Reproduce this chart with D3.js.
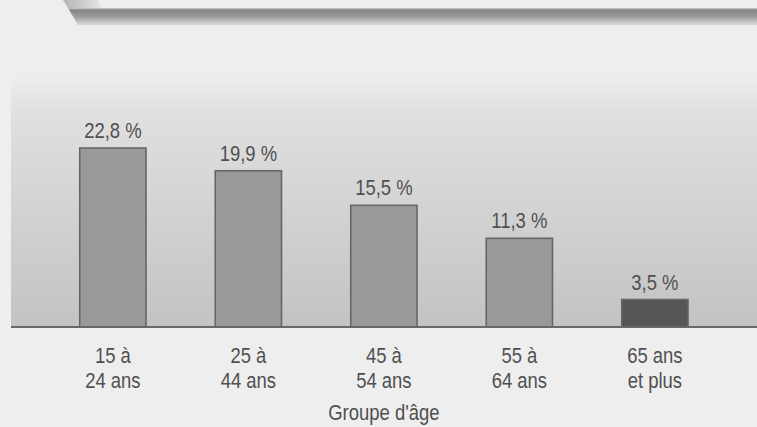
<!DOCTYPE html>
<html>
<head>
<meta charset="utf-8">
<script src="https://cdn.jsdelivr.net/npm/d3@7"></script>
<style>
  html, body { margin: 0; padding: 0; background: #eeeeee; }
  svg { display: block; }
  text { font-family: "Liberation Sans", Arial, sans-serif; fill: #505050; font-size: 22px; }
</style>
</head>
<body>
<svg id="chart" width="757" height="427"></svg>
<script>
const categories = [["15 à", "24 ans"], ["25 à", "44 ans"], ["45 à", "54 ans"], ["55 à", "64 ans"], ["65 ans", "et plus"]];
const values = [22.8, 19.9, 15.5, 11.3, 3.5];
const valueLabels = ["22,8 %", "19,9 %", "15,5 %", "11,3 %", "3,5 %"];
const axisTitle = "Groupe d'âge";

const W = 757, H = 427;
const SX = 0.84; // condensed look
const svg = d3.select("#chart");
const defs = svg.append("defs");

const bg = defs.append("linearGradient").attr("id", "panel").attr("x1", 0).attr("y1", 0).attr("x2", 0).attr("y2", 1);
bg.append("stop").attr("offset", "0%").attr("stop-color", "#eeeeee");
bg.append("stop").attr("offset", "15%").attr("stop-color", "#e0e0e0");
bg.append("stop").attr("offset", "100%").attr("stop-color", "#c3c3c3");

const band = defs.append("linearGradient").attr("id", "banner").attr("x1", 0).attr("y1", 0).attr("x2", 0).attr("y2", 1);
band.append("stop").attr("offset", "0%").attr("stop-color", "#d0d0d0");
band.append("stop").attr("offset", "12%").attr("stop-color", "#858585");
band.append("stop").attr("offset", "50%").attr("stop-color", "#9a9a9a");
band.append("stop").attr("offset", "100%").attr("stop-color", "#dadada");

const tab = defs.append("linearGradient").attr("id", "tab").attr("x1", 0).attr("y1", 0).attr("x2", 1).attr("y2", 0);
tab.append("stop").attr("offset", "0%").attr("stop-color", "#b4b4b4");
tab.append("stop").attr("offset", "100%").attr("stop-color", "#e4e4e4");

const x = d3.scaleBand().domain(d3.range(values.length)).range([11.25, 756.5]).paddingInner(0.5).paddingOuter(0.5);
const y = d3.scaleLinear().domain([0, 25]).range([327, 130.75]);
const cx = i => x(i) + x.bandwidth() / 2;

// panel
svg.append("rect").attr("x", 11).attr("y", 75).attr("width", W - 11).attr("height", y(0) - 75).attr("fill", "url(#panel)");

// top banner
svg.append("path").attr("d", "M63,0 L98,0 Q100,4 101,8 L68,8 Z").attr("fill", "url(#tab)");
svg.append("path").attr("d", "M68,8 L757,8 L757,25 L78,25 Z").attr("fill", "url(#banner)");

// bars
svg.selectAll("rect.bar").data(values).enter().append("rect")
  .attr("class", "bar")
  .attr("x", (d, i) => x(i) + 0.75)
  .attr("y", d => y(d))
  .attr("width", x.bandwidth() - 1.5)
  .attr("height", d => y(0) - y(d))
  .attr("fill", (d, i) => i === values.length - 1 ? "#565656" : "#999999")
  .attr("stroke", "#666666")
  .attr("stroke-width", 1.6);

// baseline
svg.append("line").attr("x1", 11).attr("x2", W).attr("y1", y(0)).attr("y2", y(0))
  .attr("stroke", "#686868").attr("stroke-width", 2);

function label(px, py, txt) {
  svg.append("text")
    .attr("transform", `translate(${px},${py}) scale(${SX},1)`)
    .attr("text-anchor", "middle")
    .text(txt);
}

values.forEach((d, i) => label(cx(i), y(d) - 10, valueLabels[i]));
categories.forEach((c, i) => { label(cx(i), 363, c[0]); label(cx(i), 388, c[1]); });
label(cx(2), 420, axisTitle);
</script>
</body>
</html>
